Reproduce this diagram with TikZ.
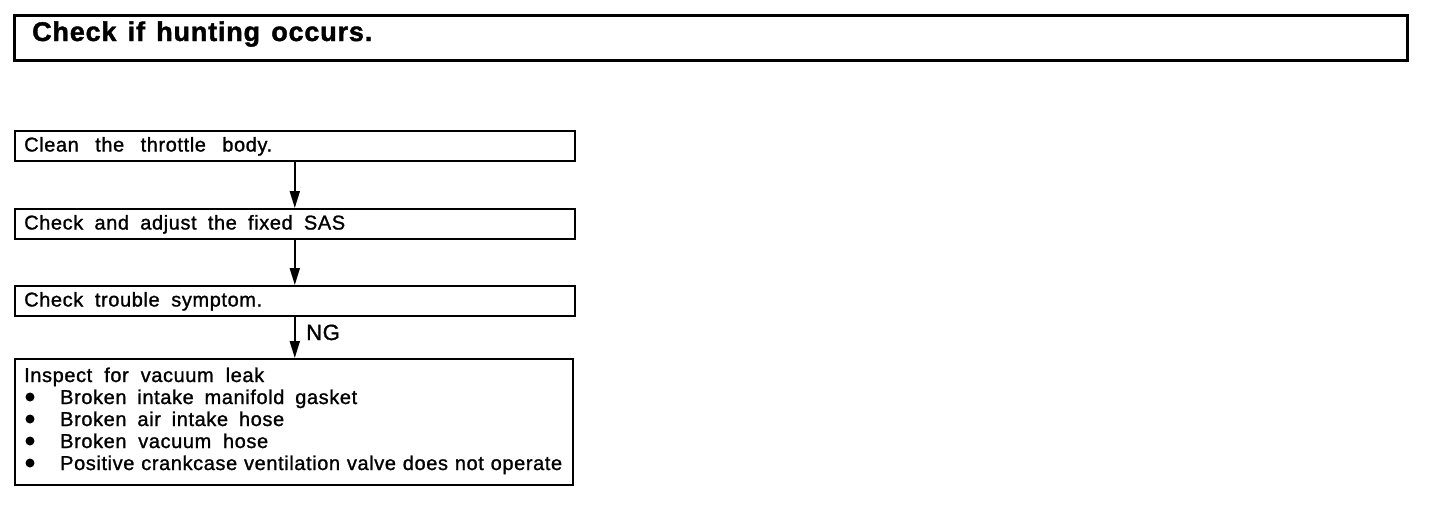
\documentclass[tikz,border=0pt]{standalone}
\usepackage{fontspec}
\setmainfont{Liberation Sans}
\newfontfamily\bodyfont[LetterSpace=3,FakeBold=1.2]{Liberation Sans}
\newfontfamily\titlefont[LetterSpace=3,FakeBold=1.5]{Liberation Sans Bold}
\usetikzlibrary{arrows.meta}
\newcommand{\fitw}[2]{\makebox[#1][s]{#2}}
\tikzset{
  box/.style={draw, line width=1.6pt, anchor=north west, inner sep=0pt},
  titlebox/.style={draw, line width=2.8pt, anchor=north west, inner sep=0pt},
  txt/.style={anchor=base west, inner sep=0pt, font=\bodyfont\fontsize{20}{22}\selectfont},
  ttl/.style={anchor=base west, inner sep=0pt, font=\titlefont\fontsize{27}{30}\selectfont},
  nglabel/.style={anchor=base west, inner sep=0pt, font=\bodyfont\fontsize{22}{24}\selectfont},
  flow/.style={line width=1.8pt, -{Triangle[width=10pt,length=17pt]}},
  bullet/.style={circle, fill, inner sep=0pt, minimum size=9pt},
}
\begin{document}
\begin{tikzpicture}[x=1pt,y=-1pt]
\useasboundingbox (0,0) rectangle (1440,512);
% title
\node[titlebox, minimum width=1393pt, minimum height=45pt] (title) at (13,14) {};
\node[ttl] (tt) at (32,41) {\fitw{340pt}{Check if hunting occurs.}};
% boxes
\node[box, minimum width=560pt, minimum height=30pt] (b1) at (14,130) {};
\node[box, minimum width=560pt, minimum height=30pt] (b2) at (14,208) {};
\node[box, minimum width=560pt, minimum height=30pt] (b3) at (14,285) {};
\node[box, minimum width=558pt, minimum height=126pt] (b4) at (14,358) {};
% texts
\node[txt] (t1) at (24,151.5) {\fitw{248pt}{Clean the throttle body.}};
\node[txt] (t2) at (24,229.5) {\fitw{321pt}{Check and adjust the fixed SAS}};
\node[txt] (t3) at (24,306.5) {\fitw{238pt}{Check trouble symptom.}};
\node[txt] (t4) at (24,382) {\fitw{240pt}{Inspect for vacuum leak}};
\node[txt] (t5) at (60,404) {\fitw{297pt}{Broken intake manifold gasket}};
\node[txt] (t6) at (60,426) {\fitw{224pt}{Broken air intake hose}};
\node[txt] (t7) at (60,448) {\fitw{208pt}{Broken vacuum hose}};
\node[txt] (t8) at (60,470) {\fitw{502pt}{Positive crankcase ventilation valve does not operate}};
% bullets
\node[bullet] (d1) at (30,397) {};
\node[bullet] (d2) at (30,419) {};
\node[bullet] (d3) at (30,441) {};
\node[bullet] (d4) at (30,463) {};
% connectors
\draw[flow] (b1.south) -- (b2.north);
\draw[flow] (b2.south) -- (b3.north);
\draw[flow] (b3.south) -- (b3.south |- b4.north);
\node[nglabel] (ng) at (306,340) {NG};
\end{tikzpicture}
\end{document}
